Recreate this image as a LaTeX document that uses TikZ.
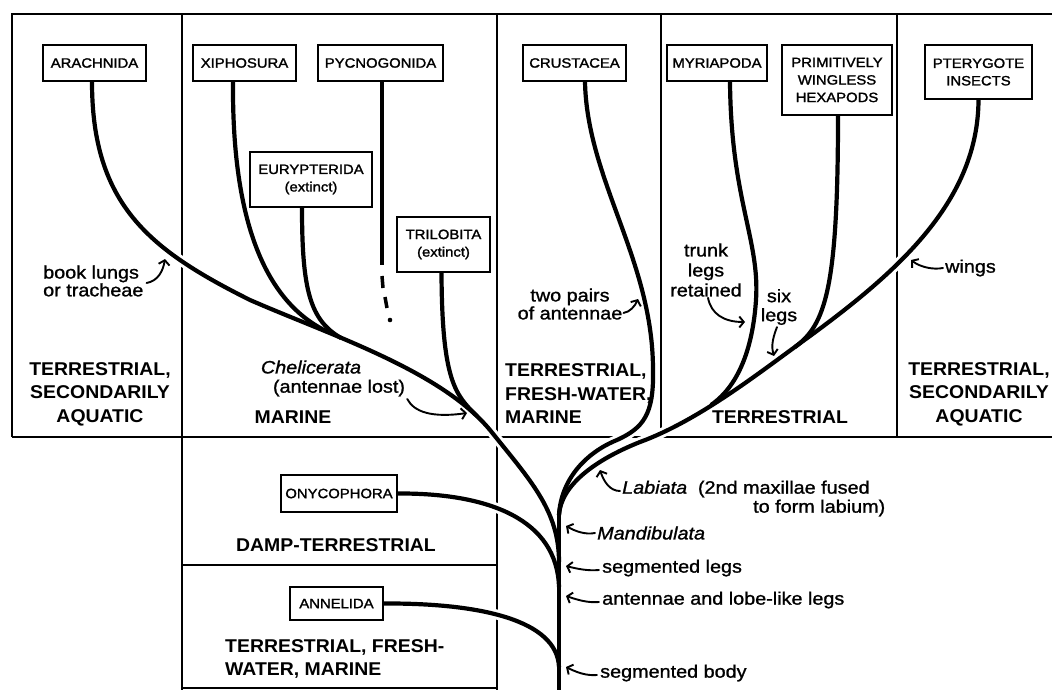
\documentclass[tikz,border=0pt]{standalone}
\usepackage{fontspec}
\setmainfont{Liberation Sans}
\newfontfamily\stfnt[FakeStretch=1.1,FakeBold=1.2]{Liberation Sans}
\newfontfamily\boxfnt[FakeStretch=1.1,FakeBold=1.6]{Liberation Sans}
\newfontfamily\regfnt[FakeStretch=1.05]{Liberation Sans}
\usetikzlibrary{arrows.meta}
\pgfdeclarelayer{frame}
\pgfdeclarelayer{halo}
\pgfsetlayers{frame,halo,main}
\tikzset{
  frame/.style={line width=2.2pt},
  br/.style={black,line width=4.2pt},
  taxon/.style={draw, line width=1.8pt, fill=white, inner sep=0pt, align=center,
    font=\boxfnt\fontsize{13.5}{17.5}\selectfont},
  region/.style={inner sep=0pt, align=center,
    font=\regfnt\bfseries\fontsize{18.5}{23.5}\selectfont},
  lbl/.style={inner sep=0pt, align=center, font=\stfnt\fontsize{18}{19}\selectfont},
  arr/.style={line width=1.9pt, line cap=round, -{Straight Barb[length=4.5pt,width=11pt]}},
}
\newcommand\treepaths{%
  \draw[br] (jM) -- (root);
  \draw[br] ([xshift=-2.5pt]arach.south) .. controls (92,205) and (150,250) .. (250,300)
     .. controls (330,335) and (440,370) .. (490,430)
     .. controls (530,480) and (559,510) .. (jC);
  \draw[br] ([xshift=-11.5pt]xiph.south) .. controls (232,210) and (260,300) .. (jX);
  \draw[br] ([xshift=-9pt]eury.south) .. controls (302,290) and (310,320) .. (jE);
  \draw[br] ([xshift=-2pt]tril.south) .. controls (442,380) and (455,395) .. (jT);
  \draw[br] ([xshift=10.5pt]crus.south) .. controls (587,180) and (653,260) .. (653,370)
     .. controls (654,415) and (643,428) .. (617,440)
     .. controls (585,453) and (561,480) .. (jM);
  \draw[br] (pter.south) .. controls (978,200) and (900,270) .. (810,336)
     .. controls (760,372) and (700,420) .. (640,442)
     .. controls (595,460) and (561,485) .. (jM);
  \draw[br] ([xshift=13pt]myri.south) .. controls (731,200) and (760,240) .. (756,300)
     .. controls (753,345) and (740,385) .. (jY);
  \draw[br] ([xshift=1pt]prim.south) .. controls (838,290) and (825,325) .. (jH);
  \draw[br] (onyc.east) .. controls (490,493) and (557,520) .. (jO);
  \draw[br] (anne.east) .. controls (480,603) and (557,620) .. (jA);
}
\begin{document}
\begin{tikzpicture}[x=1pt,y=-1pt]
\useasboundingbox (0,0) rectangle (1052,690);

% taxon boxes
\node[taxon, minimum width=103pt, minimum height=36pt] (arach) at (94.5,63) {ARACHNIDA};
\node[taxon, minimum width=103pt, minimum height=36pt] (xiph) at (244.5,63) {XIPHOSURA};
\node[taxon, minimum width=125pt, minimum height=36pt] (pycn) at (380.5,63) {PYCNOGONIDA};
\node[taxon, minimum width=103pt, minimum height=36pt] (crus) at (574.5,63) {CRUSTACEA};
\node[taxon, minimum width=100pt, minimum height=36pt] (myri) at (717,63) {MYRIAPODA};
\node[taxon, minimum width=110pt, minimum height=70pt] (prim) at (837,80) {PRIMITIVELY\\WINGLESS\\HEXAPODS};
\node[taxon, minimum width=107pt, minimum height=54pt] (pter) at (978.5,72) {PTERYGOTE\\INSECTS};
\node[taxon, minimum width=122pt, minimum height=55pt] (eury) at (311,179.5) {EURYPTERIDA\\(extinct)};
\node[taxon, minimum width=93pt, minimum height=55pt] (tril) at (443.5,244.5) {TRILOBITA\\(extinct)};
\node[taxon, minimum width=116pt, minimum height=37pt] (onyc) at (339,493.5) {ONYCOPHORA};
\node[taxon, minimum width=93pt, minimum height=33pt] (anne) at (336.5,603.5) {ANNELIDA};

% junctions
\coordinate (root) at (559,690);
\coordinate (jM) at (559,515);
\coordinate (jC) at (559,562);
\coordinate (jO) at (559,587);
\coordinate (jA) at (559,667);
\coordinate (jX) at (328,332);
\coordinate (jE) at (341,338);
\coordinate (jT) at (477,416);
\coordinate (jY) at (711,405);
\coordinate (jH) at (795,347);
\coordinate (pEnd) at (382,265);

% frame
\begin{pgfonlayer}{frame}
\draw[frame] (12,437) -- (12,14) -- (1052,14);
\draw[frame] (12,437) -- (1052,437);
\draw[frame] (182,14) -- (182,690);
\draw[frame] (497,14) -- (497,690);
\draw[frame] (661,14) -- (661,437);
\draw[frame] (897,14) -- (897,437);
\draw[frame] (182,565) -- (497,565);
\draw[frame] (182,688) -- (497,688);
\end{pgfonlayer}

% tree: white halo then black
\begin{pgfonlayer}{halo}
\begin{scope}[br/.style={white,line width=10pt}]
\treepaths
\end{scope}
\end{pgfonlayer}
\treepaths

% pycnogonida with uncertain ending
\draw[br] ([xshift=1.5pt]pycn.south) -- (pEnd);
\draw[line width=3.5pt] (382,276) -- (383,288);
\draw[line width=3.5pt] (385,297) -- (387,308);
\fill (390,320) circle (2.3pt);

% region labels
\node[region] (r1) at (100,394) {TERRESTRIAL,\\SECONDARILY\\AQUATIC};
\node[region] (r2) at (293,417) {MARINE};
\node[region, align=left, anchor=west] (r3) at (505,394) {TERRESTRIAL,\\FRESH-WATER,\\MARINE};
\node[region] (r4) at (780,417) {TERRESTRIAL};
\node[region] (r5) at (979,394) {TERRESTRIAL,\\SECONDARILY\\AQUATIC};
\node[region] (r6) at (336,545) {DAMP-TERRESTRIAL};
\node[region, align=left, anchor=west] (r7) at (225,659) {TERRESTRIAL, FRESH-\\WATER, MARINE};

% character labels
\node[lbl, align=left, anchor=west, font=\stfnt\fontsize{18}{16.5}\selectfont] (blungs) at (43,281) {book lungs\\or tracheae};
\node[lbl, font=\stfnt\itshape\fontsize{18}{19}\selectfont] (chel1) at (311,367) {Chelicerata};
\node[lbl] (chel2) at (339,388) {(antennae lost)};
\node[lbl, font=\stfnt\fontsize{18}{18}\selectfont] (twop) at (570,304) {two pairs\\of antennae};
\node[lbl, font=\stfnt\fontsize{18}{20}\selectfont] (trunkl) at (706,270) {trunk\\legs\\retained};
\node[lbl] (sixl) at (779,307) {six\\legs};
\node[lbl, anchor=west] (wingl) at (945,268) {wings};
\node[lbl, anchor=west] (labl) at (622,489) {\textit{Labiata}\hspace{0.6em}(2nd maxillae fused};
\node[lbl, anchor=west] (labium) at (753,508) {to form labium)};
\node[lbl, anchor=west] (mandl) at (597,533) {\textit{Mandibulata}};
\node[lbl, anchor=west] (segl) at (602,568) {segmented legs};
\node[lbl, anchor=west] (antl) at (602,600) {antennae and lobe-like legs};
\node[lbl, anchor=west] (segb) at (600,673) {segmented body};

% arrow tips
\coordinate (tBook) at (165,259);
\coordinate (tChel) at (467,413);
\coordinate (tTwo) at (638,299);
\coordinate (tTrunk) at (745,322);
\coordinate (tSix) at (774,356);
\coordinate (tWings) at (911,260);
\coordinate (tLab) at (600,470);
\coordinate (tMand) at (566,526);
\coordinate (tSegL) at (566,566);
\coordinate (tAnt) at (566,596);
\coordinate (tBody) at (566,667);

\draw[arr] ([xshift=3pt,yshift=-2pt]blungs.east) .. controls (158,281) and (163,271) .. (tBook);
\draw[arr] ([xshift=2pt,yshift=-11pt]chel2.east) .. controls (414,412) and (432,418) .. (tChel);
\draw[arr] ([xshift=1pt,yshift=-9pt]twop.east) .. controls (630,312) and (635,306) .. (tTwo);
\draw[arr] ([xshift=2pt,yshift=-1pt]trunkl.south) .. controls (711,314) and (724,322) .. (tTrunk);
\draw[arr] ([xshift=-2pt,yshift=-2pt]sixl.south) .. controls (771,342) and (772,349) .. (tSix);
\draw[arr] ([xshift=-2pt]wingl.west) .. controls (933,270) and (920,267) .. (tWings);
\draw[arr] ([xshift=-2pt,yshift=-2pt]labl.west) .. controls (610,491) and (604,482) .. (tLab);
\draw[arr] ([xshift=-2pt]mandl.west) .. controls (585,535) and (575,531) .. (tMand);
\draw[arr] ([xshift=-3pt,yshift=-2pt]segl.west) .. controls (588,571) and (578,569) .. (tSegL);
\draw[arr] ([xshift=-3pt,yshift=-2pt]antl.west) .. controls (588,603) and (578,600) .. (tAnt);
\draw[arr] ([xshift=-3pt,yshift=-2pt]segb.west) .. controls (586,676) and (576,672) .. (tBody);
\end{tikzpicture}
\end{document}
